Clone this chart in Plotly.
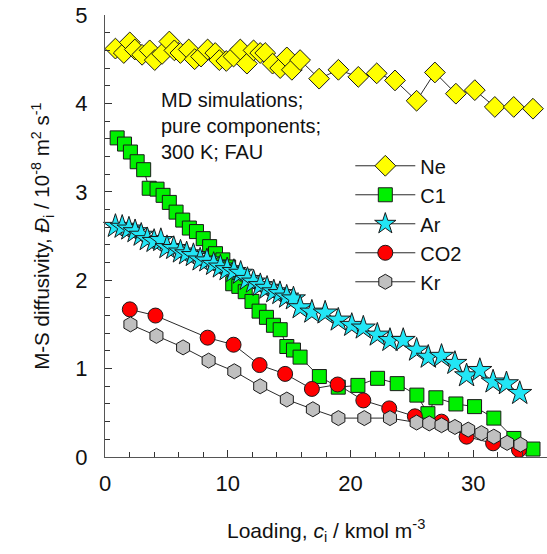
import plotly.graph_objects as go

# ---- data ----
ne_x = [0.85, 1.53, 2.02, 2.43, 3.02, 3.64, 4.05, 4.65, 5.24, 5.65, 6.14, 6.82, 7.30, 7.82,
        8.36, 8.98, 9.31, 9.88, 10.47, 11.02, 11.56, 12.10, 12.64, 13.05, 13.65, 14.27,
        14.81, 15.22, 15.89, 17.44, 19.01, 20.63, 22.13, 23.62, 25.38, 26.87, 28.58,
        30.12, 31.75, 33.29, 34.86]
ne_y = [4.62, 4.57, 4.69, 4.61, 4.55, 4.60, 4.49, 4.56, 4.70, 4.60, 4.57, 4.61, 4.50, 4.53,
        4.61, 4.57, 4.49, 4.48, 4.53, 4.61, 4.45, 4.60, 4.57, 4.57, 4.45, 4.40,
        4.52, 4.38, 4.49, 4.28, 4.38, 4.30, 4.34, 4.26, 4.03, 4.35, 4.11,
        4.15, 3.96, 3.96, 3.94]

c1_x = [0.99, 1.59, 2.07, 2.62, 3.15, 3.60, 4.24, 4.73, 5.24, 5.79, 6.33, 6.87, 7.45, 8.00,
        8.52, 9.00, 9.60, 10.07, 10.40, 10.90, 11.42, 11.97, 12.55, 13.15, 13.72, 14.27,
        14.81, 15.35, 15.89, 17.46, 19.00, 20.60, 22.20, 23.80, 25.40, 26.30, 26.95,
        28.58, 30.10, 31.67, 33.30, 34.86]
c1_y = [3.61, 3.54, 3.45, 3.34, 3.25, 3.04, 3.03, 2.96, 2.88, 2.77, 2.68, 2.59, 2.55, 2.47,
        2.38, 2.30, 2.23, 2.15, 1.96, 1.93, 1.87, 1.76, 1.65, 1.58, 1.49, 1.44,
        1.25, 1.21, 1.13, 0.91, 0.79, 0.81, 0.89, 0.83, 0.70, 0.49, 0.67,
        0.60, 0.57, 0.44, 0.21, 0.09]

ar_x = [0.85, 1.40, 1.95, 2.45, 2.95, 3.45, 4.00, 4.55, 5.05, 5.60, 6.15, 6.65, 7.20, 7.75,
        8.30, 8.85, 9.40, 9.95, 10.50, 11.05, 11.60, 12.10, 12.65, 13.20, 13.75, 14.25,
        14.80, 15.35, 15.90, 16.85, 17.93, 19.00, 20.10, 21.04, 22.18, 23.21, 24.29,
        25.38, 26.33, 27.41, 28.50, 29.45, 30.53, 31.61, 32.70, 33.78]
ar_y = [2.61, 2.60, 2.58, 2.55, 2.51, 2.46, 2.44, 2.45, 2.37, 2.36, 2.32, 2.30, 2.28, 2.23,
        2.22, 2.18, 2.15, 2.12, 2.10, 2.08, 2.01, 1.98, 1.94, 1.91, 1.87, 1.85,
        1.81, 1.79, 1.69, 1.64, 1.63, 1.55, 1.49, 1.46, 1.38, 1.32, 1.32,
        1.21, 1.13, 1.14, 1.06, 0.92, 0.98, 0.85, 0.83, 0.72]

co2_x = [2.02, 4.11, 8.36, 10.47, 12.59, 14.67, 16.85, 18.95, 21.04, 23.15, 25.24,
         27.41, 29.45, 31.61, 33.72]
co2_y = [1.67, 1.60, 1.35, 1.27, 1.04, 0.94, 0.77, 0.82, 0.64, 0.55, 0.46,
         0.40, 0.23, 0.155, 0.08]

kr_x = [2.07, 4.19, 6.36, 8.44, 10.53, 12.64, 14.81, 16.93, 19.01, 21.12, 23.21, 25.38,
        26.41, 27.41, 28.50, 29.58, 30.66, 31.67, 32.75, 33.84]
kr_y = [1.50, 1.37, 1.24, 1.09, 0.97, 0.80, 0.65, 0.54, 0.44, 0.44, 0.44, 0.39,
        0.38, 0.36, 0.34, 0.31, 0.27, 0.23, 0.16, 0.14]

FONT = "Arial, Liberation Sans, sans-serif"
LINE = dict(color="#2a2a2a", width=1)
OUT = dict(color="#1a1a1a", width=1)

fig = go.Figure()
series = [
    ("Ne", ne_x, ne_y, "diamond", "#ffff00", 16),
    ("C1", c1_x, c1_y, "square", "#00f000", 14),
    ("Ar", ar_x, ar_y, "star", "#22e6f6", 18),
    ("CO2", co2_x, co2_y, "circle", "#ff0000", 15),
    ("Kr", kr_x, kr_y, "hexagon", "#c0c0c0", 15),
]
for name, xs, ys, sym, col, sz in series:
    fig.add_trace(go.Scatter(
        x=xs, y=ys, name=name, mode="lines+markers",
        line=LINE,
        marker=dict(symbol=sym, color=col, size=sz, line=OUT),
        cliponaxis=False,
    ))

axis_common = dict(
    showgrid=False, zeroline=False, showline=True, linecolor="#555555", linewidth=1.2,
    ticks="inside", ticklen=7, tickwidth=1, tickcolor="#333333",
    tickfont=dict(family=FONT, size=22, color="#111111"),
    mirror=False,
)
fig.update_xaxes(range=[0, 36], dtick=10, tick0=0,
                 minor=dict(dtick=2, ticks="inside", ticklen=5, tickcolor="#333333"),
                 ticklabelstandoff=6, **axis_common)
fig.update_yaxes(range=[0, 5], dtick=1, tick0=0,
                 minor=dict(dtick=0.2, ticks="inside", ticklen=5, tickcolor="#333333"),
                 ticklabelstandoff=12, **axis_common)

fig.update_layout(
    width=547, height=554,
    margin=dict(l=104.5, r=0, t=15, b=97, autoexpand=False),
    paper_bgcolor="white", plot_bgcolor="white",
    font=dict(family=FONT, color="#111111"),
    showlegend=True,
    legend=dict(x=0.555, y=0.703, xanchor="left", yanchor="top",
                font=dict(family=FONT, size=20, color="#111111"),
                bgcolor="rgba(0,0,0,0)", itemwidth=60, tracegroupgap=0),
    annotations=[
        dict(text="MD simulations;<br>pure components;<br>300 K; FAU",
             x=4.4, y=4.19, xref="x", yref="y", xanchor="left", yanchor="top",
             align="left", showarrow=False,
             font=dict(family=FONT, size=20, color="#111111")),
        dict(text="M-S diffusivity, <i>Đ</i><sub>i</sub> / 10<sup>-8</sup> m<sup>2</sup> s<sup>-1</sup>",
             x=-0.143, y=0.5, xref="paper", yref="paper", xanchor="center", yanchor="middle",
             textangle=-90, showarrow=False,
             font=dict(family=FONT, size=20.5, color="#111111")),
        dict(text="Loading, <i>c</i><sub>i</sub> / kmol m<sup>-3</sup>",
             x=0.5, y=-0.167, xref="paper", yref="paper", xanchor="center", yanchor="middle",
             showarrow=False,
             font=dict(family=FONT, size=21, color="#111111")),
    ],
)

fig.write_html("out.html")
